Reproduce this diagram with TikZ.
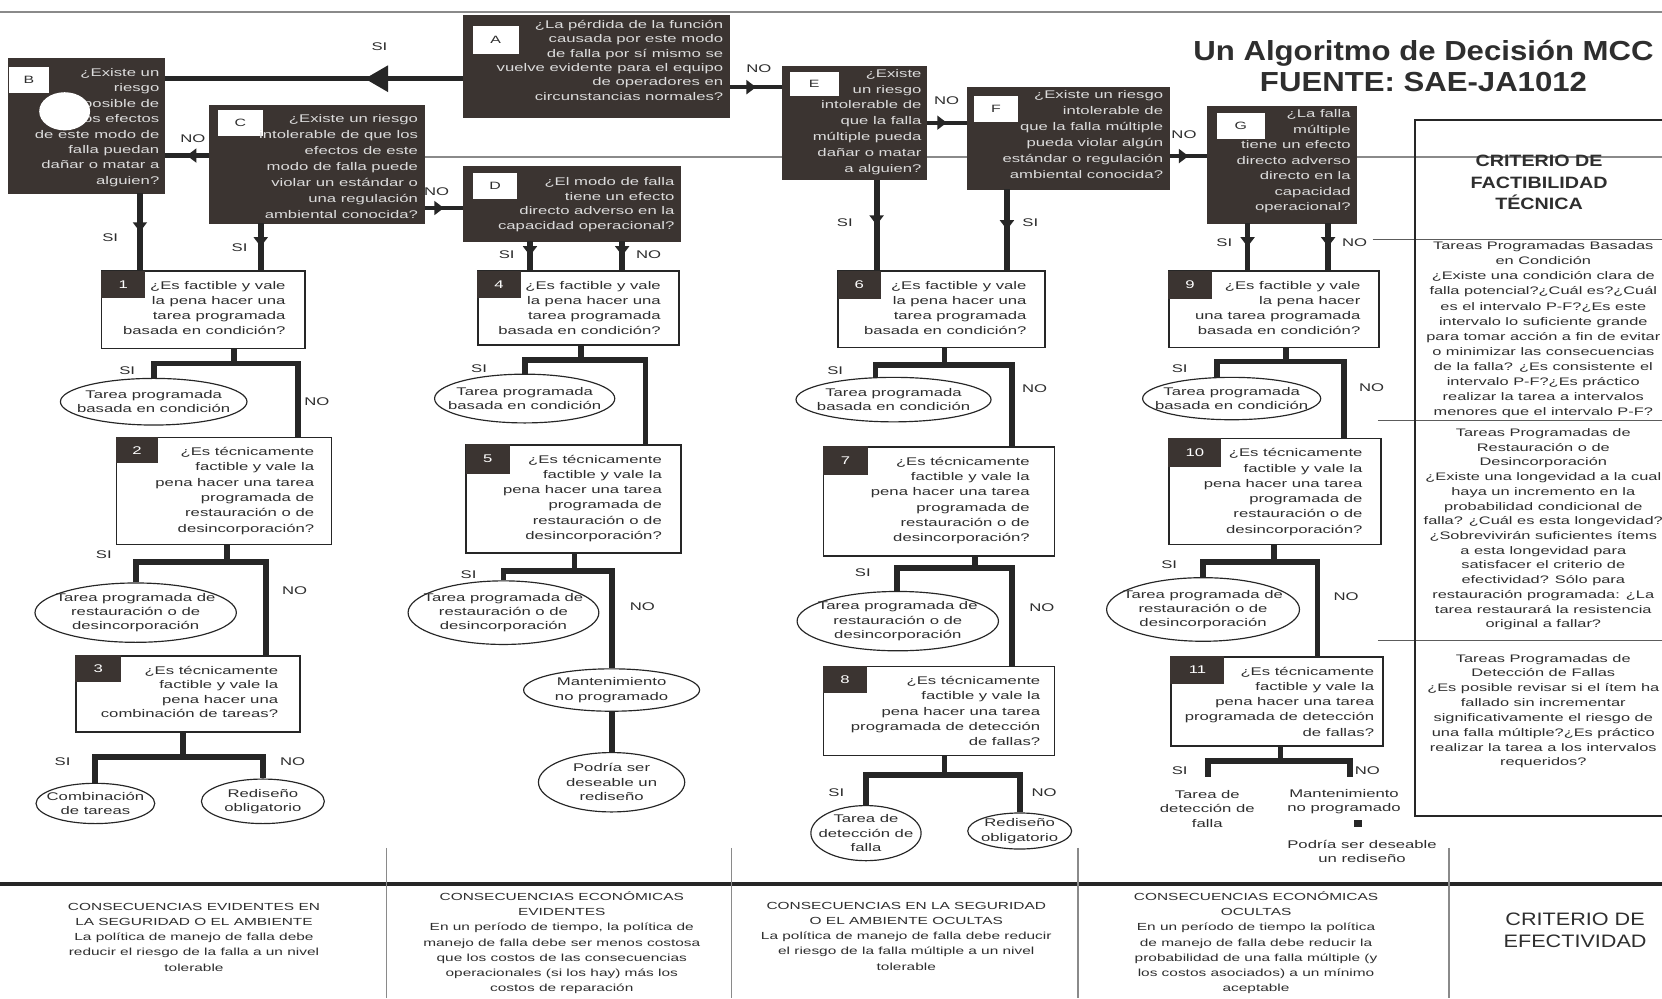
\documentclass[tikz,border=0pt]{standalone}
\usepackage{fontspec}
\setmainfont{Liberation Sans}
\newfontfamily\bodyf[FakeStretch=1.5]{Liberation Sans}
\newfontfamily\headf[FakeStretch=1.2]{Liberation Sans}
\newfontfamily\titf[FakeStretch=1.13]{Liberation Sans}
\usetikzlibrary{shapes.geometric,arrows.meta,decorations.markings}
\definecolor{ink}{HTML}{262626}
\definecolor{darkbox}{HTML}{3B3431}
\definecolor{boxtext}{HTML}{DCDCDC}
\definecolor{grayline}{HTML}{8A8A8A}
\definecolor{txt}{HTML}{2E2E2E}
\tikzset{
  flow/.style={draw=ink, line width=5.5pt, line join=miter},
  stemln/.style={draw=ink, line width=5.5pt},
  midarrow/.style={postaction={decorate, decoration={markings, mark=at position #1 with {\arrow[color=ink]{Triangle[width=13pt,length=9pt]}}}}},
  midarrow/.default=0.5,
  bigarrow/.style={postaction={decorate, decoration={markings, mark=at position #1 with {\arrow[color=ink]{Triangle[width=24pt,length=22pt]}}}}},
  dbox/.style={fill=darkbox, draw=darkbox, line width=0.5pt, anchor=north west, inner sep=0pt},
  qbox/.style={fill=white, draw=ink, line width=1.6pt, anchor=north west, inner sep=0pt},
  wlab/.style={fill=white, text=txt, anchor=north west, inner sep=0pt, font=\bodyf\fontsize{10}{12}\selectfont},
  nlab/.style={fill=darkbox, text=white, anchor=north west, inner sep=0pt, font=\bodyf\fontsize{10.5}{12}\selectfont},
  dtext/.style={anchor=north east, align=right, inner sep=0pt, text=boxtext, font=\bodyf\fontsize{10.5}{#1}\selectfont},
  qtext/.style={anchor=north east, align=right, inner sep=0pt, text=txt, font=\bodyf\fontsize{10.5}{#1}\selectfont},
  qtext/.default=14.4,
  oval/.style={ellipse, draw=ink, line width=1.1pt, fill=white, inner sep=0pt},
  otext/.style={align=center, inner sep=0pt, text=txt, font=\bodyf\fontsize{10.5}{13.5}\selectfont},
  yn/.style={inner sep=0pt, text=txt, font=\bodyf\fontsize{10.5}{12}\selectfont},
  btext/.style={align=center, inner sep=0pt, text=txt, anchor=north, font=\bodyf\fontsize{9.7}{14.3}\selectfont},
  ptext/.style={align=center, inner sep=0pt, text=txt, anchor=north, font=\bodyf\fontsize{10.3}{14.2}\selectfont},
}
\begin{document}
\begin{tikzpicture}[x=1pt,y=-1pt]
\useasboundingbox (0,0) rectangle (1568,942);
\clip (0,0) rectangle (1568,942);
\fill[white] (0,0) rectangle (1568,942);

% ---------- background rules ----------
\draw[grayline, line width=1.6pt] (0,11) -- (1568,11);
\draw[grayline, line width=1.3pt] (400,148) -- (1568,148);
\draw[ink!75, line width=1.3pt] (1295,226) -- (1568,226);
\draw[ink!75, line width=1.3pt] (1300,397) -- (1568,397);
\draw[ink!75, line width=1.3pt] (1300,604) -- (1568,604);
\draw[ink, line width=2.2pt] (1580,113) -- (1335,113) -- (1335,770) -- (1580,770);
\draw[ink, line width=3pt] (0,834) -- (1568,834);
\foreach \x in {365,690,1017,1367} {\draw[grayline, line width=1pt] (\x,800) -- (\x,942);}

% ---------- title ----------
\node[font=\titf\bfseries\fontsize{26}{29}\selectfont, text=txt, align=center, anchor=north, inner sep=0pt] (title) at (1343,38) {Un Algoritmo de Decisión MCC\\FUENTE: SAE-JA1012};

% ---------- top decision boxes ----------
\node[dbox, minimum width=251, minimum height=96] (A) at (437,14) {};
\node[wlab, minimum width=43, minimum height=27] (Al) at (446,24) {A};
\node[dtext=13.5] (At) at ([xshift=-6pt,yshift=-5pt]A.north east) {¿La pérdida de la función\\causada por este modo\\de falla por sí mismo se\\vuelve evidente para el equipo\\de operadores en\\circunstancias normales?};

\node[dbox, minimum width=147, minimum height=127] (B) at (8,55) {};
\node[wlab, minimum width=38, minimum height=25] (Bl) at (8,63) {B};
\node[dtext=14.6] (Bt) at ([xshift=-5pt,yshift=-9pt]B.north east) {¿Existe un\\riesgo\\posible de\\que los efectos\\de este modo de\\falla puedan\\dañar o matar a\\alguien?};
\fill[white] (61,105) ellipse [x radius=24, y radius=18];

\node[dbox, minimum width=203, minimum height=111] (C) at (197,99) {};
\node[wlab, minimum width=43, minimum height=24] (Cl) at (205,104) {C};
\node[dtext=15] (Ct) at ([xshift=-6pt,yshift=-9pt]C.north east) {¿Existe un riesgo\\intolerable de que los\\efectos de este\\modo de falla puede\\violar un estándar o\\una regulación\\ambiental conocida?};

\node[dbox, minimum width=205, minimum height=70] (D) at (437,157) {};
\node[wlab, minimum width=42, minimum height=25] (Dl) at (446,163) {D};
\node[dtext=14] (Dt) at ([xshift=-6pt,yshift=-10pt]D.north east) {¿El modo de falla\\tiene un efecto\\directo adverso en la\\capacidad operacional?};

\node[dbox, minimum width=136, minimum height=107] (E) at (738,62) {};
\node[wlab, minimum width=46, minimum height=22] (El) at (745,68) {E};
\node[dtext=15] (Et) at ([xshift=-5pt,yshift=-3pt]E.north east) {¿Existe\\un riesgo\\intolerable de\\que la falla\\múltiple pueda\\dañar o matar\\a alguien?};

\node[dbox, minimum width=191, minimum height=96] (F) at (912,82) {};
\node[wlab, minimum width=41, minimum height=25] (Fl) at (919,90) {F};
\node[dtext=15.2] (Ft) at ([xshift=-6pt,yshift=-3pt]F.north east) {¿Existe un riesgo\\intolerable de\\que la falla múltiple\\pueda violar algún\\estándar o regulación\\ambiental conocida?};

\node[dbox, minimum width=140, minimum height=110] (G) at (1139,100) {};
\node[wlab, minimum width=45, minimum height=25] (Gl) at (1148,106) {G};
\node[dtext=14.7] (Gt) at ([xshift=-5pt,yshift=-3pt]G.north east) {¿La falla\\múltiple\\tiene un efecto\\directo adverso\\directo en la\\capacidad\\operacional?};

% ---------- top connectors ----------
\draw[flow, line width=4.5pt, bigarrow=0.33] ([yshift=-12pt]A.west) -- ([yshift=-12pt]A.west -| B.east);
\draw[flow, line width=4pt, midarrow] ([yshift=-20pt]A.east) -- ([yshift=-20pt]A.east -| E.west);
\draw[flow, line width=4pt, midarrow] (E.east) -- (E.east -| F.west);
\draw[flow, line width=4pt, midarrow] ([yshift=-17pt]F.east) -- ([yshift=-17pt]F.east -| G.west);
\draw[flow, line width=4pt, midarrow] ([yshift=8pt]C.west) -- ([yshift=8pt]C.west -| B.east);
\draw[flow, line width=4pt, midarrow] ([yshift=-4pt]D.west -| C.east) -- ([yshift=-4pt]D.west);

\node[yn] (ySIab) at (358,44) {SI};
\node[yn] (yNOae) at (716,65) {NO};
\node[yn] (yNOcb) at (182,131) {NO};
\node[yn] (yNOcd) at (412,181) {NO};
\node[yn] (yNOef) at (893,95) {NO};
\node[yn] (yNOfg) at (1117,127) {NO};

% ---------- question boxes ----------
\node[qbox, minimum width=192, minimum height=73] (b1) at (95,255) {};
\node[nlab, minimum width=42, minimum height=26] (n1) at (b1.north west) {1};
\node[qtext] (t1) at ([xshift=-19pt,yshift=-10pt]b1.north east) {¿Es factible y vale\\la pena hacer una\\tarea programada\\basada en condición?};

\node[qbox, minimum width=203, minimum height=101] (b2) at (109,412) {};
\node[nlab, minimum width=40, minimum height=25] (n2) at (b2.north west) {2};
\node[qtext] (t2) at ([xshift=-17pt,yshift=-10pt]b2.north east) {¿Es técnicamente\\factible y vale la\\pena hacer una tarea\\programada de\\restauración o de\\desincorporación?};

\node[qbox, minimum width=211, minimum height=72] (b3) at (71,618) {};
\node[nlab, minimum width=43, minimum height=25] (n3) at (b3.north west) {3};
\node[qtext=13.8] (t3) at ([xshift=-21pt,yshift=-10pt]b3.north east) {¿Es técnicamente\\factible y vale la\\pena hacer una\\combinación de tareas?};

\node[qbox, minimum width=190, minimum height=70] (b4) at (450,255) {};
\node[nlab, minimum width=41, minimum height=26] (n4) at (b4.north west) {4};
\node[qtext] (t4) at ([xshift=-18pt,yshift=-10pt]b4.north east) {¿Es factible y vale\\la pena hacer una\\tarea programada\\basada en condición?};

\node[qbox, minimum width=203, minimum height=102] (b5) at (439,419) {};
\node[nlab, minimum width=42, minimum height=28] (n5) at (b5.north west) {5};
\node[qtext] (t5) at ([xshift=-19pt,yshift=-10pt]b5.north east) {¿Es técnicamente\\factible y vale la\\pena hacer una tarea\\programada de\\restauración o de\\desincorporación?};

\node[qbox, minimum width=195, minimum height=72] (b6) at (790,255) {};
\node[nlab, minimum width=41, minimum height=27] (n6) at (b6.north west) {6};
\node[qtext] (t6) at ([xshift=-18pt,yshift=-10pt]b6.north east) {¿Es factible y vale\\la pena hacer una\\tarea programada\\basada en condición?};

\node[qbox, minimum width=218, minimum height=103] (b7) at (776,421) {};
\node[nlab, minimum width=43, minimum height=27] (n7) at (b7.north west) {7};
\node[qtext] (t7) at ([xshift=-24pt,yshift=-10pt]b7.north east) {¿Es técnicamente\\factible y vale la\\pena hacer una tarea\\programada de\\restauración o de\\desincorporación?};

\node[qbox, minimum width=218, minimum height=84] (b8) at (776,628) {};
\node[nlab, minimum width=42, minimum height=26] (n8) at (b8.north west) {8};
\node[qtext] (t8) at ([xshift=-14pt,yshift=-10pt]b8.north east) {¿Es técnicamente\\factible y vale la\\pena hacer una tarea\\programada de detección\\de fallas?};

\node[qbox, minimum width=198, minimum height=72] (b9) at (1102,255) {};
\node[nlab, minimum width=41, minimum height=27] (n9) at (b9.north west) {9};
\node[qtext] (t9) at ([xshift=-18pt,yshift=-10pt]b9.north east) {¿Es factible y vale\\la pena hacer\\una tarea programada\\basada en condición?};

\node[qbox, minimum width=200, minimum height=100] (b10) at (1102,413) {};
\node[nlab, minimum width=50, minimum height=27] (n10) at (b10.north west) {10};
\node[qtext] (t10) at ([xshift=-18pt,yshift=-10pt]b10.north east) {¿Es técnicamente\\factible y vale la\\pena hacer una tarea\\programada de\\restauración o de\\desincorporación?};

\node[qbox, minimum width=200, minimum height=84] (b11) at (1104,619) {};
\node[nlab, minimum width=51, minimum height=26] (n11) at (b11.north west) {11};
\node[qtext] (t11) at ([xshift=-9pt,yshift=-10pt]b11.north east) {¿Es técnicamente\\factible y vale la\\pena hacer una tarea\\programada de detección\\de fallas?};

% ---------- outcome ellipses ----------
\node[oval, minimum width=176, minimum height=44] (e1) at (145,379) {};
\node[otext] (e1t) at (e1.center) {Tarea programada\\basada en condición};
\node[oval, minimum width=190, minimum height=56] (e2) at (128,578) {};
\node[otext] (e2t) at (e2.center) {Tarea programada de\\restauración o de\\desincorporación};
\node[oval, minimum width=112, minimum height=38] (e3) at (90,758) {};
\node[otext] (e3t) at (e3.center) {Combinación\\de tareas};
\node[oval, minimum width=116, minimum height=42] (e4) at (248,756) {};
\node[otext] (e4t) at (e4.center) {Rediseño\\obligatorio};

\node[oval, minimum width=170, minimum height=46] (e5) at (495,376) {};
\node[otext] (e5t) at (e5.center) {Tarea programada\\basada en condición};
\node[oval, minimum width=180, minimum height=60] (e6) at (475,578) {};
\node[otext] (e6t) at (e6.center) {Tarea programada de\\restauración o de\\desincorporación};
\node[oval, minimum width=166, minimum height=40] (e7) at (577,651) {};
\node[otext] (e7t) at (e7.center) {Mantenimiento\\no programado};
\node[oval, minimum width=138, minimum height=56] (e8) at (577,738) {};
\node[otext] (e8t) at (e8.center) {Podría ser\\deseable un\\rediseño};

\node[oval, minimum width=184, minimum height=42] (e9) at (843,377) {};
\node[otext] (e9t) at (e9.center) {Tarea programada\\basada en condición};
\node[oval, minimum width=190, minimum height=56] (e10) at (847,586) {};
\node[otext] (e10t) at (e10.center) {Tarea programada de\\restauración o de\\desincorporación};
\node[oval, minimum width=104, minimum height=52] (e11) at (817,786) {};
\node[otext] (e11t) at (e11.center) {Tarea de\\detección de\\falla};
\node[oval, minimum width=98, minimum height=34] (e12) at (962,784) {};
\node[otext] (e12t) at (e12.center) {Rediseño\\obligatorio};

\node[oval, minimum width=168, minimum height=40] (e13) at (1162,376) {};
\node[otext] (e13t) at (e13.center) {Tarea programada\\basada en condición};
\node[oval, minimum width=182, minimum height=60] (e14) at (1135,575) {};
\node[otext] (e14t) at (e14.center) {Tarea programada de\\restauración o de\\desincorporación};

\node[otext] (o11s) at (1139,763) {Tarea de\\detección de\\falla};
\node[otext] (o11n) at (1268,756) {Mantenimiento\\no programado};
\node[fill=ink, minimum size=7pt, inner sep=0pt] (sq) at (1281,777) {};
\node[otext] (o11r) at (1285,803) {Podría ser deseable\\un rediseño};

% ---------- stems from top boxes ----------
\coordinate (sB) at (132,0); \coordinate (sC) at (246,0);
\coordinate (dS) at (500,0); \coordinate (dN) at (587,0);
\coordinate (eS) at (827,0); \coordinate (fS) at (950,0);
\coordinate (gS) at (1177,0); \coordinate (gN) at (1253,0);
\draw[stemln, midarrow] (sB |- B.south) -- (sB |- b1.north);
\draw[stemln, midarrow] (sC |- C.south) -- (sC |- b1.north);
\draw[stemln, midarrow] (dS |- D.south) -- (dS |- b4.north);
\draw[stemln, midarrow] (dN |- D.south) -- (dN |- b4.north);
\draw[stemln, midarrow] (eS |- E.south) -- (eS |- b6.north);
\draw[stemln, midarrow] (fS |- F.south) -- (fS |- b6.north);
\draw[stemln, midarrow] (gS |- G.south) -- (gS |- b9.north);
\draw[stemln, midarrow] (gN |- G.south) -- (gN |- b9.north);

\node[yn] (ySIb) at (104,224) {SI};
\node[yn] (ySIc) at (226,234) {SI};
\node[yn] (ySId) at (478,240) {SI};
\node[yn] (yNOd) at (612,240) {NO};
\node[yn] (ySIe) at (797,210) {SI};
\node[yn] (ySIf) at (972,210) {SI};
\node[yn] (ySIg) at (1155,229) {SI};
\node[yn] (yNOg) at (1278,229) {NO};

% ---------- column 1 flows ----------
\coordinate (j1) at (221,343); \coordinate (r1) at (281,0);
\draw[stemln] (b1.south -| j1) -- (j1);
\draw[flow] (e1.north) |- (j1) -| (r1 |- b2.north);
\coordinate (j2) at (214,530); \coordinate (r2) at (251,0);
\draw[stemln] (b2.south -| j2) -- (j2);
\draw[flow] (e2.north) |- (j2) -| (r2 |- b3.north);
\coordinate (j3) at (173,714);
\draw[stemln] (b3.south -| j3) -- (j3);
\draw[flow] (e3.north) |- (j3) -| (e4.north);

\node[yn] (s1) at (120,350) {SI};
\node[yn] (o1) at (299,379) {NO};
\node[yn] (s2) at (98,523) {SI};
\node[yn] (o2) at (278,557) {NO};
\node[yn] (s3) at (59,719) {SI};
\node[yn] (o3) at (276,719) {NO};

% ---------- column 2 flows ----------
\coordinate (j4) at (548,340); \coordinate (r4) at (609,0);
\draw[stemln] (b4.south -| j4) -- (j4);
\draw[flow] (e5.north) |- (j4) -| (r4 |- b5.north);
\coordinate (j5) at (542,539);
\draw[stemln] (b5.south -| j5) -- (j5);
\draw[flow] (e6.north) |- (j5) -| (e7.north);
\draw[flow] (e7.south) -- (e8.north);

\node[yn] (s4) at (452,348) {SI};
\node[yn] (s5) at (442,542) {SI};
\node[yn] (o5) at (606,572) {NO};

% ---------- column 3 flows ----------
\coordinate (j6) at (891,344); \coordinate (l6) at (826,0); \coordinate (r6) at (955,0);
\draw[stemln] (b6.south -| j6) -- (j6);
\draw[flow] (l6 |- e9.north) |- (j6) -| (r6 |- b7.north);
\coordinate (j7) at (920,536); \coordinate (l7) at (846,0);
\draw[stemln] (b7.south -| j7) -- (j7);
\draw[flow] (l7 |- e10.north) |- (j7) -| (r6 |- b8.north);
\coordinate (j8) at (891,731);
\draw[stemln] (b8.south -| j8) -- (j8);
\draw[flow] (e11.north) |- (j8) -| (e12.north);

\node[yn] (s6) at (788,350) {SI};
\node[yn] (o6) at (976,367) {NO};
\node[yn] (s7) at (814,540) {SI};
\node[yn] (o7) at (983,573) {NO};
\node[yn] (s8) at (789,748) {SI};
\node[yn] (o8) at (985,748) {NO};

% ---------- column 4 flows ----------
\coordinate (j9) at (1213,341); \coordinate (l9) at (1148,0); \coordinate (r9) at (1268,0);
\draw[stemln] (b9.south -| j9) -- (j9);
\draw[flow] (l9 |- e13.north) |- (j9) -| (r9 |- b10.north);
\coordinate (j10) at (1202,530); \coordinate (r10) at (1243,0);
\draw[stemln] (b10.south -| j10) -- (j10);
\draw[flow] (e14.north) |- (j10) -| (r10 |- b11.north);
\coordinate (j11) at (1208,718); \coordinate (t11a) at (1140,733); \coordinate (t11b) at (1274,733);
\draw[stemln] (b11.south -| j11) -- (j11);
\draw[flow] (t11a) |- (j11) -| (t11b);

\node[yn] (s9) at (1113,348) {SI};
\node[yn] (o9) at (1294,366) {NO};
\node[yn] (s10) at (1103,533) {SI};
\node[yn] (o10) at (1270,563) {NO};
\node[yn] (s11) at (1113,727) {SI};
\node[yn] (o11) at (1290,727) {NO};

% ---------- right panel ----------
\node[font=\headf\bfseries\fontsize{15.5}{20.5}\selectfont, text=txt, align=center, anchor=north, inner sep=0pt] (ptitle) at (1452,146) {CRITERIO DE\\FACTIBILIDAD\\TÉCNICA};
\node[ptext] (p1) at (1456,228) {Tareas Programadas Basadas\\en Condición\\¿Existe una condición clara de\\falla potencial?¿Cuál es?¿Cuál\\es el intervalo P-F?¿Es este\\intervalo lo suficiente grande\\para tomar acción a fin de evitar\\o minimizar las consecuencias\\de la falla? ¿Es consistente el\\intervalo P-F?¿Es práctico\\realizar la tarea a intervalos\\menores que el intervalo P-F?};
\node[ptext, font=\bodyf\fontsize{10.3}{13.9}\selectfont] (p2) at (1456,404) {Tareas Programadas de\\Restauración o de\\Desincorporación\\¿Existe una longevidad a la cual\\haya un incremento en la\\probabilidad condicional de\\falla? ¿Cuál es esta longevidad?\\¿Sobrevivirán suficientes ítems\\a esta longevidad para\\satisfacer el criterio de\\efectividad? Sólo para\\restauración programada: ¿La\\tarea restaurará la resistencia\\original a fallar?};
\node[ptext, font=\bodyf\fontsize{10.3}{14}\selectfont] (p3) at (1456,617) {Tareas Programadas de\\Detección de Fallas\\¿Es posible revisar si el ítem ha\\fallado sin incrementar\\significativamente el riesgo de\\una falla múltiple?¿Es práctico\\realizar la tarea a los intervalos\\requeridos?};

% ---------- bottom criteria ----------
\node[btext] (c1) at (183,852) {CONSECUENCIAS EVIDENTES EN\\LA SEGURIDAD O EL AMBIENTE\\La política de manejo de falla debe\\reducir el riesgo de la falla a un nivel\\tolerable};
\node[btext] (c2) at (530,841) {CONSECUENCIAS ECONÓMICAS\\EVIDENTES\\En un período de tiempo, la política de\\manejo de falla debe ser menos costosa\\que los costos de las consecuencias\\operacionales (si los hay) más los\\costos de reparación};
\node[btext] (c3) at (855,851) {CONSECUENCIAS EN LA SEGURIDAD\\O EL AMBIENTE OCULTAS\\La política de manejo de falla debe reducir\\el riesgo de la falla múltiple a un nivel\\tolerable};
\node[btext] (c4) at (1185,841) {CONSECUENCIAS ECONÓMICAS\\OCULTAS\\En un período de tiempo la política\\de manejo de falla debe reducir la\\probabilidad de una falla múltiple (y\\los costos asociados) a un mínimo\\aceptable};
\node[font=\headf\fontsize{17}{21}\selectfont, text=txt, align=center, anchor=north, inner sep=0pt] (c5) at (1486,861) {CRITERIO DE\\EFECTIVIDAD};
\end{tikzpicture}
\end{document}
